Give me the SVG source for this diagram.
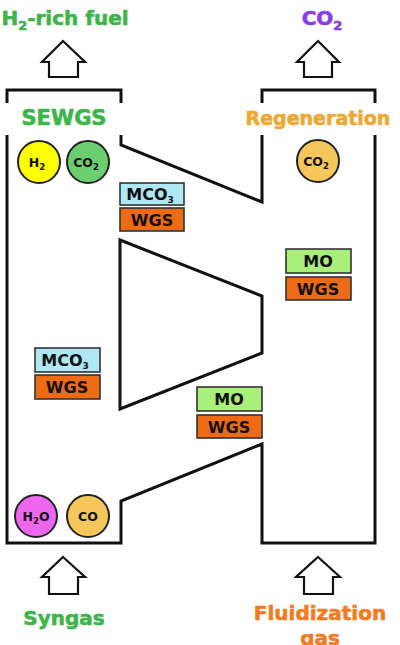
<svg xmlns="http://www.w3.org/2000/svg" width="400" height="645" viewBox="0 0 400 645">
<style>
.wall{fill:none;stroke:#111;stroke-width:3;stroke-linejoin:miter}
.arrow{fill:#fff;stroke:#111;stroke-width:2.2}
.lbl{font-family:"DejaVu Sans",Verdana,sans-serif;font-weight:bold;text-anchor:middle;stroke-width:0.6}
.big{font-size:20px}
.box{stroke:#333;stroke-width:1.6}
.btxt{font-family:"DejaVu Sans",Verdana,sans-serif;font-weight:bold;font-size:16px;text-anchor:middle;fill:#111}
.ctxt{font-family:"DejaVu Sans",Verdana,sans-serif;font-weight:bold;font-size:12.5px;text-anchor:middle;fill:#111}
.circ{stroke:#222;stroke-width:2}
.mco3{fill:#aee8f4}
.mo{fill:#a8f07a}
.wgs{fill:#ef6a14}
</style>
<g id="reactors">
<path class="wall" d="M7,103 V90 H121 V103"/>
<path class="wall" d="M262,103 V90 H375 V103"/>
<path class="wall" d="M121,135 V145 L262,202 V135"/>
<path class="wall" d="M120,240 L262,296 V353 L120,409 Z"/>
<path class="wall" d="M7,135 V543 H121 V501 L262,444 V543 H375 V135"/>
</g>
<g id="connectors">
<path class="arrow" d="M63,41 L85,62 H78 V77 H49 V62 H42 Z"/>
<path class="arrow" d="M318,41 L339,62 H332 V77 H304 V62 H297 Z"/>
<path class="arrow" d="M63,557 L85,577 H78 V594 H49 V577 H42 Z"/>
<path class="arrow" d="M318,557 L340,577 H333 V594 H304 V577 H296 Z"/>
</g>
<g id="label-h2fuel"><text class="lbl big" x="65" y="25" fill="#3db54a" stroke="#3db54a">H<tspan font-size="13" dy="5">2</tspan><tspan dy="-5">-rich fuel</tspan></text></g>
<g id="label-co2out"><text class="lbl big" x="322" y="25" fill="#8b3ee6" stroke="#8b3ee6">CO<tspan font-size="13" dy="5">2</tspan></text></g>
<g id="label-sewgs"><text class="lbl" font-size="21" x="64" y="125" fill="#3db54a" stroke="#3db54a">SEWGS</text></g>
<g id="label-regen"><text class="lbl" font-size="19" x="318" y="125" fill="#f0a830" stroke="#f0a830">Regeneration</text></g>
<g id="label-syngas"><text class="lbl big" x="64" y="625" fill="#3db54a" stroke="#3db54a">Syngas</text></g>
<g id="label-fluid"><text class="lbl big" x="320" y="620" fill="#f47b20" stroke="#f47b20">Fluidization<tspan x="320" dy="25">gas</tspan></text></g>
<g id="circle-h2"><circle class="circ" cx="39" cy="162" r="21" fill="#ffff00"/><text class="ctxt" x="37" y="167">H<tspan font-size="8.5" dy="3">2</tspan></text></g>
<g id="circle-co2a"><circle class="circ" cx="88" cy="162" r="21" fill="#6ccf6f"/><text class="ctxt" x="86" y="167">CO<tspan font-size="8.5" dy="3">2</tspan></text></g>
<g id="circle-co2b"><circle class="circ" cx="318" cy="161" r="21" fill="#f5c75a"/><text class="ctxt" x="316" y="166">CO<tspan font-size="8.5" dy="3">2</tspan></text></g>
<g id="circle-h2o"><circle class="circ" cx="36" cy="516" r="21" fill="#ee66ee"/><text class="ctxt" x="36" y="521">H<tspan font-size="8.5" dy="3">2</tspan><tspan dy="-3">O</tspan></text></g>
<g id="circle-co"><circle class="circ" cx="88" cy="516" r="21" fill="#f5c75a"/><text class="ctxt" x="88" y="521">CO</text></g>
<g id="box-mco3-top"><rect class="box mco3" x="120" y="183" width="64" height="22"/><text class="btxt" x="150" y="200">MCO<tspan font-size="9" dy="3">3</tspan></text></g>
<g id="box-wgs-top"><rect class="box wgs" x="120" y="208" width="64" height="23"/><text class="btxt" x="152" y="226">WGS</text></g>
<g id="box-mo-right"><rect class="box mo" x="286" y="249" width="65" height="24"/><text class="btxt" x="318" y="267">MO</text></g>
<g id="box-wgs-right"><rect class="box wgs" x="286" y="277" width="65" height="23"/><text class="btxt" x="318" y="295">WGS</text></g>
<g id="box-mco3-left"><rect class="box mco3" x="35" y="348" width="65" height="24"/><text class="btxt" x="65" y="366">MCO<tspan font-size="9" dy="3">3</tspan></text></g>
<g id="box-wgs-left"><rect class="box wgs" x="35" y="375" width="65" height="24"/><text class="btxt" x="67" y="393">WGS</text></g>
<g id="box-mo-bottom"><rect class="box mo" x="197" y="387" width="65" height="24"/><text class="btxt" x="229" y="405">MO</text></g>
<g id="box-wgs-bottom"><rect class="box wgs" x="197" y="415" width="65" height="23"/><text class="btxt" x="229" y="433">WGS</text></g>
</svg>
